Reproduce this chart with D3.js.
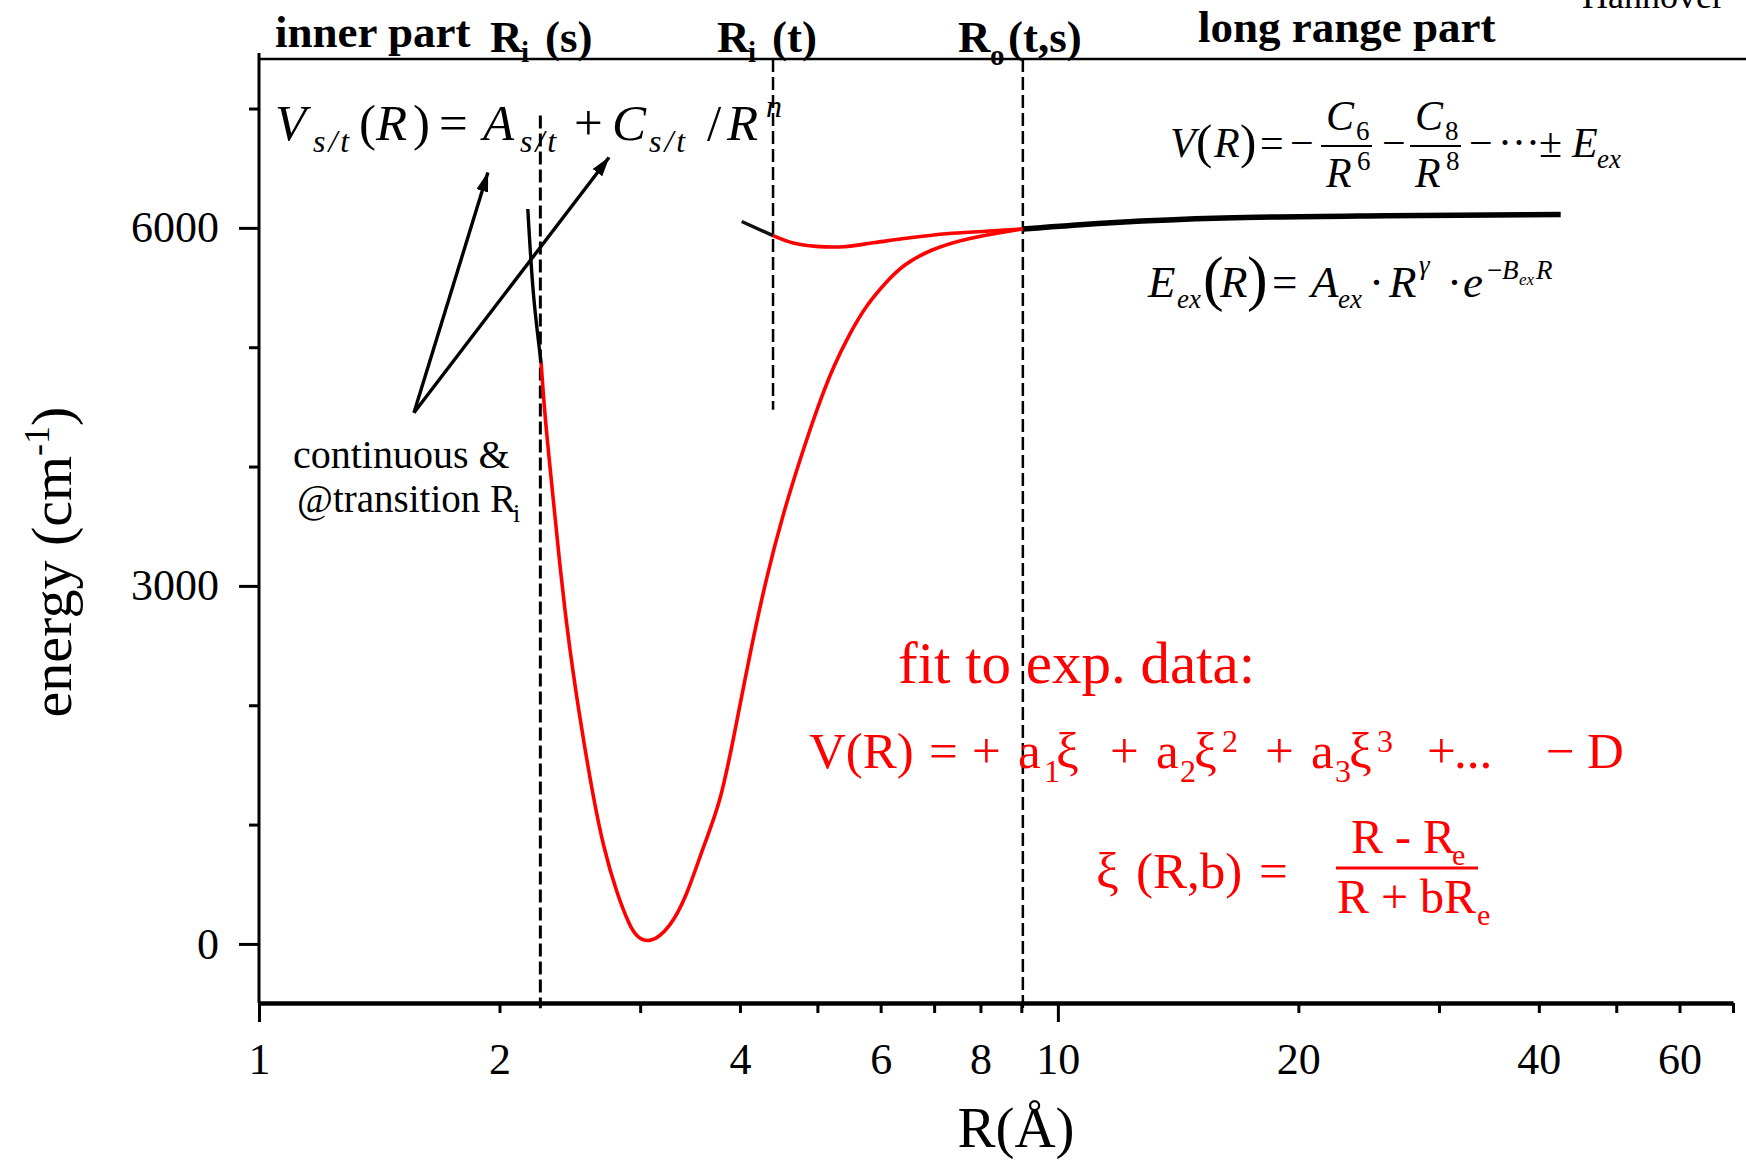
<!DOCTYPE html>
<html>
<head>
<meta charset="utf-8">
<script src="https://cdn.jsdelivr.net/npm/d3@7"></script>
<style>
  html, body { margin: 0; padding: 0; background: #fff; }
  svg { display: block; }
  text { font-family: "Liberation Serif", "Times New Roman", Times, serif; }
  .axis path, .axis line { stroke: #000; }
</style>
</head>
<body>
<svg id="chart" width="1746" height="1160"></svg>
<script>
// ---- data (R in Angstrom, energy in cm-1) ----
var xTickValues = [1, 2, 3, 4, 5, 6, 7, 8, 9, 10, 20, 30, 40, 50, 60, 70];
var xTickLabels = [1, 2, 4, 6, 8, 10, 20, 40, 60];
var xMajorTicks = [1, 10];
var yTickValues = [0, 1000, 2000, 3000, 4000, 5000, 6000, 7000];
var yTickLabels = [0, 3000, 6000];

// short black piece of the inner wall (left of Ri(s))
var innerWallR = [2.170, 2.207, 2.255];
var innerWallE = [6158, 5426, 4868];

// red fitted potential well
var wellR = [2.255, 2.280, 2.313, 2.347, 2.381, 2.415, 2.450, 2.498, 2.546, 2.620, 2.697,
             2.804, 2.913, 2.970, 3.087, 3.269, 3.429, 3.598, 3.776, 3.924, 4.117, 4.319,
             4.532, 4.755, 4.989, 5.235, 5.492, 5.763, 6.105, 6.405, 6.917, 7.686, 9.04];
var wellE = [4868, 4420, 4001, 3582, 3163, 2800, 2464, 2073, 1720, 1235, 816,
             425, 145, 59, 0, 135, 396, 816, 1170, 1710, 2437, 3079,
             3610, 4057, 4476, 4839, 5119, 5356, 5552, 5691, 5817, 5915, 5991];

// shallow red state and its black inner piece (left of Ri(t))
var shallowR = [4.40, 4.664, 4.985, 5.40, 5.90, 6.50, 7.25, 8.14, 9.04];
var shallowE = [5935, 5873, 5845, 5842, 5877, 5915, 5951, 5972, 5991];
var shallowInnerR = [4.02, 4.40];
var shallowInnerE = [6054, 5935];

// long range part (black)
var longRangeR = [9.04, 11.81, 16.12, 25.7, 42.6];
var longRangeE = [5991, 6046, 6083, 6102, 6111];

// dashed transition lines
var riS = 2.25, riT = 4.40, ro = 9.04;

// arrow from the note to the formula
var arrowTail = [1.563, 4451];
var arrowHeads = [[1.934, 6463], [2.742, 6589]];

// ---- chart ----
var svg = d3.select("#chart");
var serif = "'Liberation Serif', 'Times New Roman', Times, serif";

var x = d3.scaleLog().domain([1, 70]).range([259, 1733]);
var y = d3.scaleLinear().domain([-495, 7415]).range([1003, 59]);

var zip = function(a, b) { return a.map(function(v, i) { return [v, b[i]]; }); };

var line = d3.line()
    .x(function(d) { return x(d[0]); })
    .y(function(d) { return y(d[1]); })
    .curve(d3.curveCatmullRom.alpha(0.5));
var smoothLine = d3.line()
    .x(function(d) { return x(d[0]); })
    .y(function(d) { return y(d[1]); })
    .curve(d3.curveBasis);

// frame line on top
svg.append("line")
    .attr("x1", x(1)).attr("x2", 1746)
    .attr("y1", y(7415)).attr("y2", y(7415))
    .attr("stroke", "#000").attr("stroke-width", 2.6);

// y axis
var yAxis = svg.append("g")
    .attr("class", "axis")
    .attr("transform", "translate(" + x(1) + ",0)")
    .call(d3.axisLeft(y)
        .tickValues(yTickValues)
        .tickSizeInner(20).tickSizeOuter(0).tickPadding(20)
        .tickFormat(function(d) { return yTickLabels.indexOf(d) >= 0 ? d : ""; }));
yAxis.select(".domain").remove();
yAxis.append("line")
    .attr("x1", 0).attr("x2", 0)
    .attr("y1", y(7415) - 6).attr("y2", y(-495))
    .attr("stroke", "#000").attr("stroke-width", 3);
yAxis.selectAll(".tick line").attr("stroke-width", 3)
    .attr("x2", function(d) { return yTickLabels.indexOf(d) >= 0 ? -20 : -10; });
yAxis.selectAll(".tick text")
    .style("font-family", serif).style("font-size", "44px").attr("fill", "#000");

// x axis
var xAxis = svg.append("g")
    .attr("class", "axis")
    .attr("transform", "translate(0," + y(-495) + ")")
    .call(d3.axisBottom(x)
        .tickValues(xTickValues)
        .tickSizeInner(10).tickSizeOuter(0).tickPadding(30)
        .tickFormat(function(d) { return xTickLabels.indexOf(d) >= 0 ? d : ""; }));
xAxis.select(".domain").attr("stroke-width", 4.5);
xAxis.selectAll(".tick line").attr("stroke-width", 3)
    .attr("y2", function(d) { return xMajorTicks.indexOf(d) >= 0 ? 19 : 10; });
xAxis.selectAll(".tick text")
    .style("font-family", serif).style("font-size", "44px").attr("fill", "#000");

// axis titles
var yTitle = svg.append("text")
    .attr("transform", "translate(71,562) rotate(-90)")
    .attr("text-anchor", "middle")
    .style("font-size", "58px");
yTitle.append("tspan").text("energy (cm");
yTitle.append("tspan").attr("dy", -22).style("font-size", "36px").text("-1");
yTitle.append("tspan").attr("dy", 22).text(")");

svg.append("text")
    .attr("x", 1016).attr("y", 1147)
    .attr("text-anchor", "middle")
    .style("font-size", "57px")
    .text("R(\u00C5)");

// dashed transition lines
var dashed = svg.append("g").attr("stroke", "#000").attr("fill", "none");
dashed.append("line")
    .attr("x1", x(riS)).attr("x2", x(riS))
    .attr("y1", y(6941)).attr("y2", y(-540))
    .attr("stroke-width", 3).attr("stroke-dasharray", "13,5");
dashed.append("line")
    .attr("x1", x(riT)).attr("x2", x(riT))
    .attr("y1", y(7415)).attr("y2", y(4476))
    .attr("stroke-width", 2.5).attr("stroke-dasharray", "13,5");
dashed.append("line")
    .attr("x1", x(ro)).attr("x2", x(ro))
    .attr("y1", y(7415)).attr("y2", y(-540))
    .attr("stroke-width", 2.5).attr("stroke-dasharray", "13,5");

// curves
svg.append("path").datum(zip(wellR, wellE))
    .attr("d", smoothLine).attr("fill", "none")
    .attr("stroke", "#ff0000").attr("stroke-width", 3.6);
svg.append("path").datum(zip(shallowR, shallowE))
    .attr("d", line).attr("fill", "none")
    .attr("stroke", "#ff0000").attr("stroke-width", 3.6);
svg.append("path").datum(zip(innerWallR, innerWallE))
    .attr("d", line).attr("fill", "none")
    .attr("stroke", "#000").attr("stroke-width", 3.4);
svg.append("path").datum(zip(shallowInnerR, shallowInnerE))
    .attr("d", line).attr("fill", "none")
    .attr("stroke", "#111").attr("stroke-width", 3.4);
svg.append("path").datum(zip(longRangeR, longRangeE))
    .attr("d", line).attr("fill", "none")
    .attr("stroke", "#000").attr("stroke-width", 5.5);

// arrows
svg.append("defs").append("marker")
    .attr("id", "head")
    .attr("viewBox", "0 0 20 12")
    .attr("refX", 19).attr("refY", 6)
    .attr("markerWidth", 20).attr("markerHeight", 12)
    .attr("markerUnits", "userSpaceOnUse")
    .attr("orient", "auto")
    .append("path").attr("d", "M0,0 L20,6 L0,12 Z").attr("fill", "#000");
arrowHeads.forEach(function(h) {
  svg.append("line")
      .attr("x1", x(arrowTail[0])).attr("y1", y(arrowTail[1]))
      .attr("x2", x(h[0])).attr("y2", y(h[1]))
      .attr("stroke", "#000").attr("stroke-width", 3.4)
      .attr("marker-end", "url(#head)");
});

// ---- text pieces: [text, x, y, size, italic, letter-spacing] ----
var piece = function(p, color, bold) {
  svg.append("text")
      .attr("x", p[1]).attr("y", p[2])
      .style("font-size", p[3] + "px")
      .style("font-style", p[4] ? "italic" : "normal")
      .style("font-weight", bold ? "bold" : "normal")
      .style("letter-spacing", p[5] ? p[5] + "px" : null)
      .attr("fill", color || "#000")
      .text(p[0]);
};

// headings
[["inner part", 275, 47, 45], ["R", 490, 52, 45], ["i", 521, 62, 29], ["(s)", 545, 52, 45],
 ["R", 717, 52, 45], ["i", 748, 62, 29], ["(t)", 772, 52, 45],
 ["R", 958, 52, 45], ["o", 990, 65, 29], ["(t,s)", 1008, 52, 45],
 ["long range part", 1198, 42, 45]].forEach(function(p) { piece(p, "#000", true); });

piece(["Hannover", 1582, 8, 36]);

// inner formula
[["V", 275, 140, 51, true], ["s/t", 313, 152, 32, true, 3], ["(", 359, 140, 51], ["R", 376, 140, 51, true],
 [")", 413, 140, 51], ["=", 439, 140, 51], ["A", 483, 140, 51, true], ["s/t", 520, 152, 32, true, 3],
 ["+", 574, 140, 51], ["C", 612, 140, 51, true], ["s/t", 649, 152, 32, true, 3], ["/", 707, 140, 51],
 ["R", 727, 140, 51, true], ["n", 766, 117, 32, true]].forEach(function(p) { piece(p); });

// note
piece(["continuous &", 293, 468, 40]);
piece(["@transition R", 297, 512, 39]);
piece(["i", 513, 522, 26]);

// long range formulas
[["V", 1170, 157, 42, true], ["(", 1196, 158, 49], ["R", 1214, 157, 42, true], [")", 1240, 158, 49],
 ["=", 1260, 157, 42], ["\u2212", 1290, 157, 42],
 ["C", 1326, 130, 42, true], ["6", 1356, 140, 27], ["R", 1326, 187, 42, true], ["6", 1357, 170, 27],
 ["\u2212", 1382, 157, 42],
 ["C", 1415, 130, 42, true], ["8", 1445, 140, 27], ["R", 1415, 187, 42, true], ["8", 1446, 170, 27],
 ["\u2212", 1469, 157, 42], ["\u00B7\u00B7\u00B7", 1498, 157, 42], ["\u00B1", 1539, 157, 42],
 ["E", 1572, 157, 42, true], ["ex", 1597, 168, 27, true]].forEach(function(p) { piece(p); });
[[1321, 1372], [1410, 1461]].forEach(function(b) {
  svg.append("line").attr("x1", b[0]).attr("x2", b[1]).attr("y1", 146).attr("y2", 146)
      .attr("stroke", "#000").attr("stroke-width", 2);
});

[["E", 1148, 297, 45, true], ["ex", 1177, 308, 27, true], ["(", 1203, 299, 62], ["R", 1220, 297, 45, true],
 [")", 1247, 299, 62], ["=", 1272, 297, 45], ["A", 1311, 297, 45, true], ["ex", 1338, 308, 27, true],
 ["\u00B7", 1369, 297, 45], ["R", 1389, 297, 45, true], ["\u03B3", 1419, 274, 27, true],
 ["\u00B7", 1447, 297, 45], ["e", 1463, 297, 45, true], ["\u2212", 1487, 279, 27],
 ["B", 1502, 279, 27, true], ["ex", 1519, 285, 17, true], ["R", 1536, 279, 27, true]]
  .forEach(function(p) { piece(p); });

// red fit block
var red = "#ff0000";
piece(["fit to exp. data:", 898, 683, 59], red);
[["V(R)", 809, 768, 51], ["=", 929, 768, 51], ["+", 972, 768, 51],
 ["a", 1018, 768, 51], ["1", 1044, 782, 32], ["\u03BE", 1056, 768, 51],
 ["+", 1110, 768, 51], ["a", 1156, 768, 51], ["2", 1180, 782, 32], ["\u03BE", 1194, 768, 51], ["2", 1222, 752, 32],
 ["+", 1265, 768, 51], ["a", 1311, 768, 51], ["3", 1335, 782, 32], ["\u03BE", 1349, 768, 51], ["3", 1377, 752, 32],
 ["+", 1427, 768, 51], ["...", 1454, 768, 51], ["\u2212", 1546, 768, 51], ["D", 1587, 768, 51]]
  .forEach(function(p) { piece(p, red); });
[["\u03BE", 1096, 888, 51], ["(R,b)", 1136, 888, 51], ["=", 1259, 888, 51],
 ["R - R", 1351, 853, 48], ["e", 1452, 865, 30],
 ["R + bR", 1337, 913, 48], ["e", 1477, 925, 30]].forEach(function(p) { piece(p, red); });
svg.append("line").attr("x1", 1336).attr("x2", 1478).attr("y1", 868).attr("y2", 868)
    .attr("stroke", red).attr("stroke-width", 3);
</script>
</body>
</html>
